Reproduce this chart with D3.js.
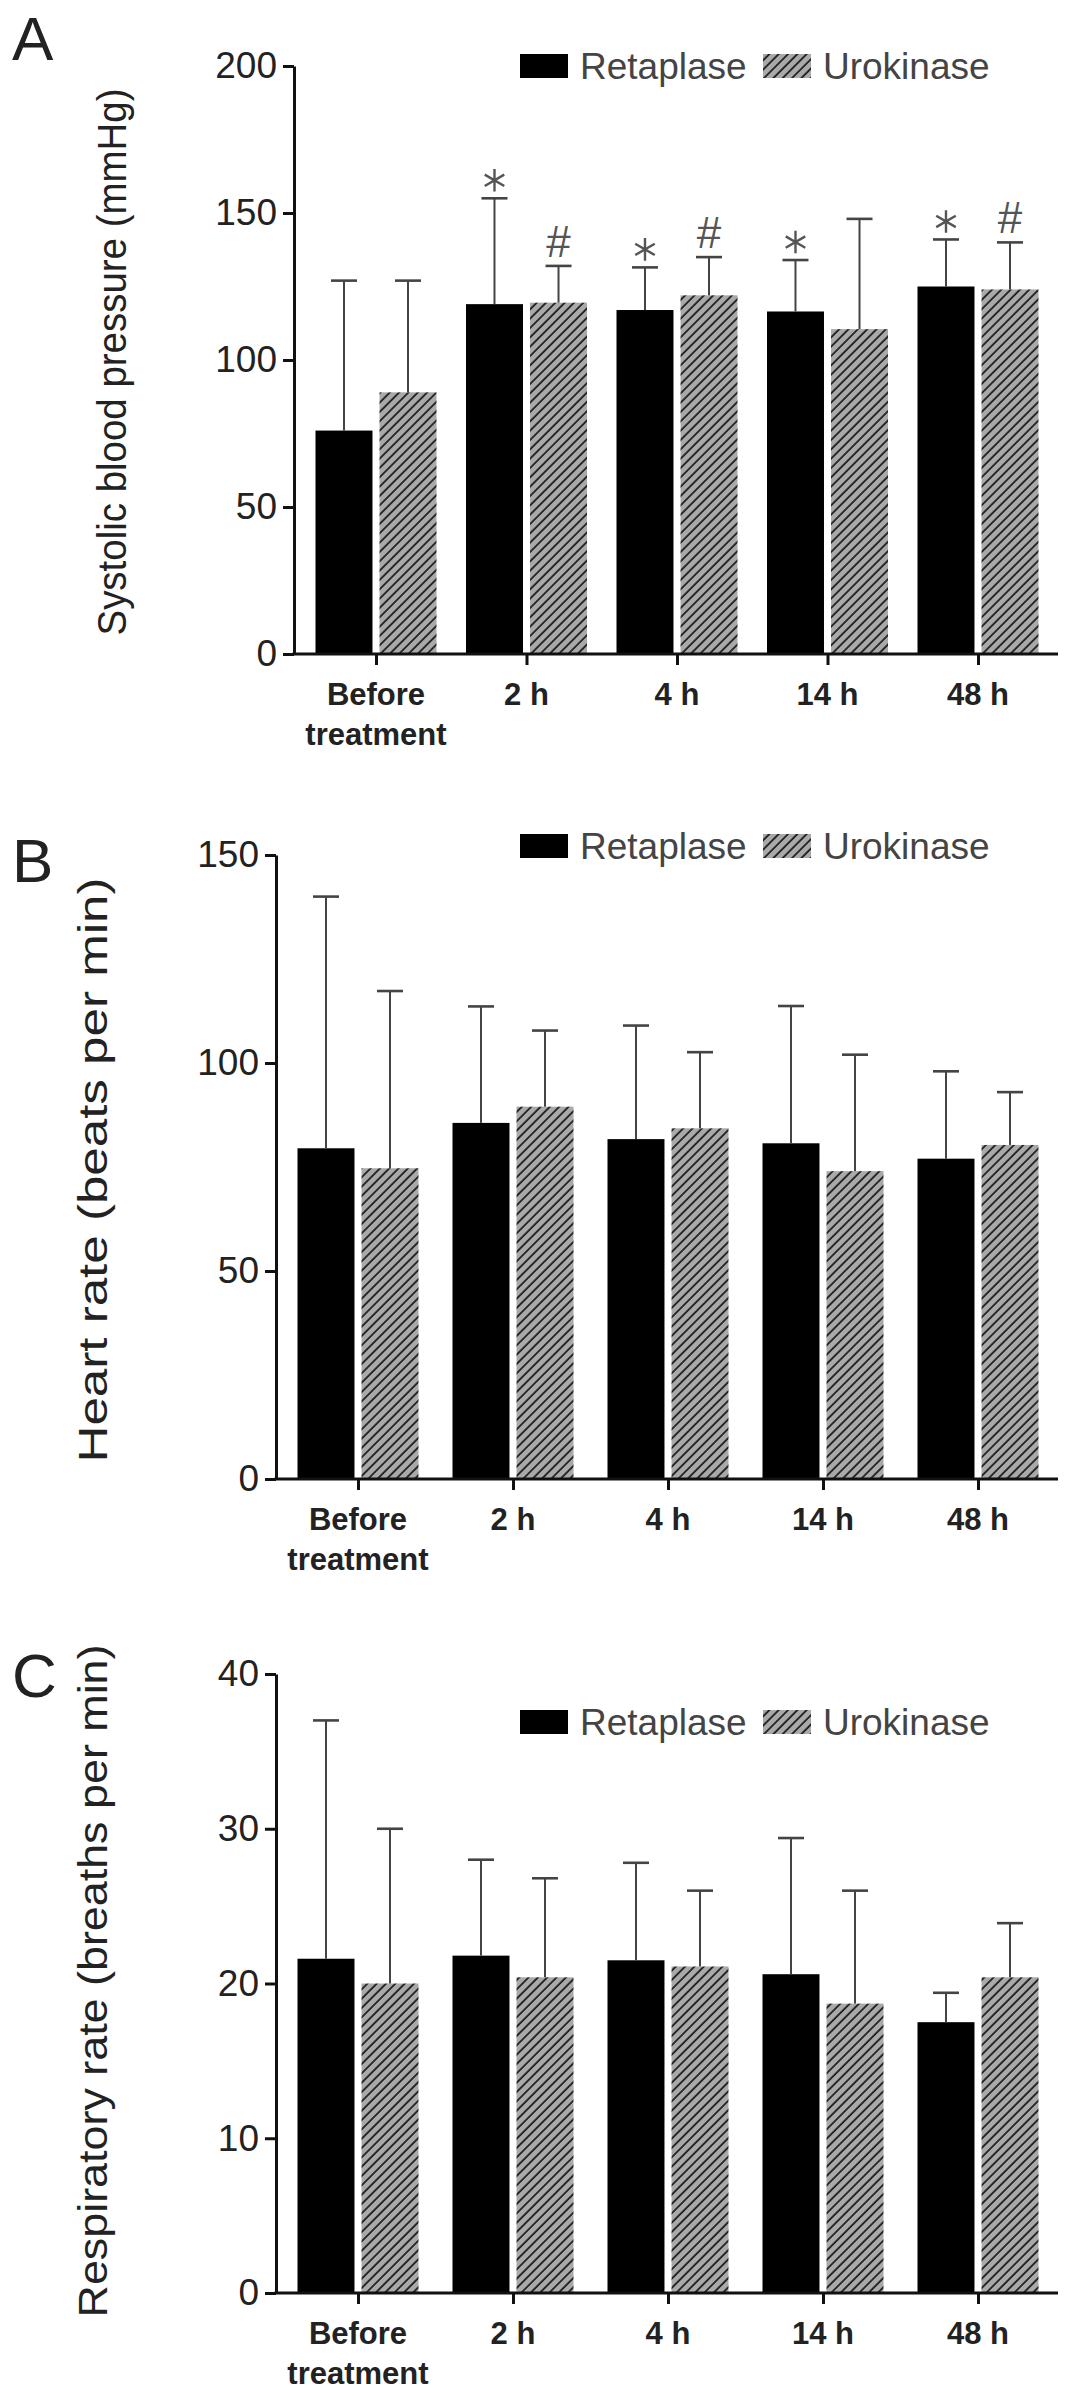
<!DOCTYPE html>
<html>
<head>
<meta charset="utf-8">
<script src="https://cdn.jsdelivr.net/npm/d3@7"></script>
<style>
  html, body { margin: 0; padding: 0; background: #fff; }
  svg { display: block; font-family: "Liberation Sans", Arial, sans-serif; }
</style>
</head>
<body>
<div id="chart"></div>
<script>
// Categories and series
var categories = ["Before treatment", "2 h", "4 h", "14 h", "48 h"];
var series = ["Retaplase", "Urokinase"];

// A: systolic blood pressure (mean, SD)
var sbpRetaplase = [76, 119, 117, 116.5, 125];
var sbpRetaplaseSD = [51, 36, 14.5, 17.5, 16];
var sbpUrokinase = [89, 119.5, 122, 110.5, 124];
var sbpUrokinaseSD = [38, 12.5, 13, 37.5, 16];
var sbpRetaplaseMarks = ["", "*", "*", "*", "*"];
var sbpUrokinaseMarks = ["", "#", "#", "", "#"];
var sbpTicks = [0, 50, 100, 150, 200];

// B: heart rate
var hrRetaplase = [79.5, 85.6, 81.7, 80.7, 77];
var hrRetaplaseSD = [60.5, 28, 27.3, 33, 21];
var hrUrokinase = [74.7, 89.5, 84.3, 74, 80.3];
var hrUrokinaseSD = [42.6, 18.3, 18.3, 28, 12.7];
var hrTicks = [0, 50, 100, 150];

// C: respiratory rate
var rrRetaplase = [21.6, 21.8, 21.5, 20.6, 17.5];
var rrRetaplaseSD = [15.4, 6.2, 6.3, 8.8, 1.9];
var rrUrokinase = [20, 20.4, 21.1, 18.7, 20.4];
var rrUrokinaseSD = [10, 6.4, 4.9, 7.3, 3.5];
var rrTicks = [0, 10, 20, 30, 40];

var W = 1087, H = 2406;

var svg = d3.select("#chart").append("svg")
    .attr("width", W)
    .attr("height", H);

// Hatch pattern for Urokinase
var defs = svg.append("defs");
var hatch = defs.append("pattern")
    .attr("id", "hatch")
    .attr("patternUnits", "userSpaceOnUse")
    .attr("width", 6.6)
    .attr("height", 6.6)
    .attr("patternTransform", "rotate(45)");
hatch.append("rect")
    .attr("width", 6.6)
    .attr("height", 6.6)
    .attr("fill", "#a9a9a9");
hatch.append("line")
    .attr("x1", 1).attr("y1", 0)
    .attr("x2", 1).attr("y2", 6.6)
    .attr("stroke", "#1e1e1e")
    .attr("stroke-width", 1.8);

var fills = ["#000", "url(#hatch)"];

// Draw one panel
var drawPanel = function(opts) {
    var g = svg.append("g");

    var y = d3.scaleLinear()
        .domain([0, opts.ticks[opts.ticks.length - 1]])
        .range([opts.bottom, opts.top]);

    var x = d3.scalePoint()
        .domain(categories)
        .range([opts.firstCenter, opts.lastCenter]);

    var xSub = d3.scaleBand()
        .domain(series)
        .range([-60.5, 60.5])
        .paddingInner(0.11);

    // Panel letter
    g.append("text")
        .attr("x", 12)
        .attr("y", opts.letterY)
        .attr("font-size", 62)
        .attr("fill", "#222")
        .text(opts.letter);

    // Y-axis title
    g.append("text")
        .attr("transform", "translate(" + opts.titleX + "," + opts.titleY + ") rotate(-90)")
        .attr("text-anchor", "middle")
        .attr("dominant-baseline", "central")
        .attr("font-size", 40)
        .attr("fill", "#222")
        .attr("textLength", opts.titleLength)
        .attr("lengthAdjust", "spacingAndGlyphs")
        .text(opts.title);

    // Bars
    var data = [];
    categories.forEach(function(c, i) {
        opts.values.forEach(function(vals, s) {
            data.push({
                cat: c,
                ser: series[s],
                s: s,
                v: vals[i],
                sd: opts.sds[s][i],
                mark: opts.marks ? opts.marks[s][i] : ""
            });
        });
    });

    var bars = g.append("g").selectAll("g")
        .data(data)
        .enter()
        .append("g")
        .attr("transform", function(d) { return "translate(" + (x(d.cat) + xSub(d.ser)) + ",0)"; });

    bars.append("rect")
        .attr("x", 0)
        .attr("width", xSub.bandwidth())
        .attr("y", function(d) { return y(d.v); })
        .attr("height", function(d) { return y(0) - y(d.v); })
        .attr("fill", function(d) { return fills[d.s]; });

    // Error bars (upper only)
    var bw = xSub.bandwidth();
    bars.append("line")
        .attr("x1", bw / 2).attr("x2", bw / 2)
        .attr("y1", function(d) { return y(d.v); })
        .attr("y2", function(d) { return y(d.v + d.sd); })
        .attr("stroke", "#444")
        .attr("stroke-width", 2);
    bars.append("line")
        .attr("x1", bw / 2 - 13).attr("x2", bw / 2 + 13)
        .attr("y1", function(d) { return y(d.v + d.sd); })
        .attr("y2", function(d) { return y(d.v + d.sd); })
        .attr("stroke", "#444")
        .attr("stroke-width", 2.6);

    // Significance marks
    bars.filter(function(d) { return d.mark === "*"; })
        .append("path")
        .attr("transform", function(d) { return "translate(" + (bw / 2) + "," + (y(d.v + d.sd) - 18) + ")"; })
        .attr("d", d3.symbol(d3.symbolAsterisk, 360)())
        .attr("fill", "none")
        .attr("stroke", "#555")
        .attr("stroke-width", 2.4);
    bars.filter(function(d) { return d.mark === "#"; })
        .append("text")
        .attr("x", bw / 2)
        .attr("y", function(d) { return y(d.v + d.sd) - 9; })
        .attr("text-anchor", "middle")
        .attr("font-size", 44)
        .attr("fill", "#555")
        .text("#");

    // Y axis
    var yAxis = g.append("g")
        .attr("transform", "translate(" + opts.axisX + ",0)")
        .call(d3.axisLeft(y).tickValues(opts.ticks).tickSize(11).tickSizeOuter(0).tickPadding(6));
    yAxis.select(".domain").attr("stroke", "#111").attr("stroke-width", 3);
    yAxis.selectAll(".tick line").attr("stroke", "#111").attr("stroke-width", 3);
    yAxis.selectAll(".tick text")
        .attr("font-size", 37)
        .attr("font-family", "Liberation Sans, Arial, sans-serif")
        .attr("fill", "#222");

    // X axis
    var xAxis = g.append("g")
        .attr("transform", "translate(0," + opts.bottom + ")")
        .call(d3.axisBottom(x).tickSize(11).tickSizeOuter(0).tickFormat(""));
    xAxis.select(".domain").remove();
    xAxis.selectAll(".tick line").attr("stroke", "#111").attr("stroke-width", 3);
    xAxis.append("line")
        .attr("x1", opts.axisX - 1.5)
        .attr("x2", 1058)
        .attr("stroke", "#111")
        .attr("stroke-width", 3);

    // X labels (two lines for "Before treatment")
    var labels = g.append("g").selectAll("text")
        .data(categories)
        .enter()
        .append("text")
        .attr("x", function(d) { return x(d); })
        .attr("y", opts.bottom + 51)
        .attr("text-anchor", "middle")
        .attr("font-size", 31)
        .attr("font-weight", "bold")
        .attr("fill", "#222");
    labels.each(function(d) {
        var words = d === "Before treatment" ? ["Before", "treatment"] : [d];
        var t = d3.select(this);
        words.forEach(function(w, k) {
            t.append("tspan")
                .attr("x", x(d))
                .attr("dy", k === 0 ? 0 : 40)
                .text(w);
        });
    });

    // Legend
    var legend = g.append("g")
        .attr("transform", "translate(0," + opts.legendY + ")");
    var legendX = [520, 763];
    series.forEach(function(s, i) {
        legend.append("rect")
            .attr("x", legendX[i])
            .attr("y", -12)
            .attr("width", 48)
            .attr("height", 24)
            .attr("fill", fills[i]);
        legend.append("text")
            .attr("x", legendX[i] + 60)
            .attr("y", 0)
            .attr("dominant-baseline", "central")
            .attr("font-size", 37)
            .attr("fill", "#444")
            .text(s);
    });
};

drawPanel({
    letter: "A", letterY: 60,
    title: "Systolic blood pressure (mmHg)", titleX: 112, titleY: 362, titleLength: 547,
    top: 66, bottom: 654, axisX: 294, firstCenter: 376, lastCenter: 978,
    ticks: sbpTicks, legendY: 66,
    values: [sbpRetaplase, sbpUrokinase],
    sds: [sbpRetaplaseSD, sbpUrokinaseSD],
    marks: [sbpRetaplaseMarks, sbpUrokinaseMarks]
});

drawPanel({
    letter: "B", letterY: 882,
    title: "Heart  rate (beats per min)", titleX: 93, titleY: 1170, titleLength: 585,
    top: 855, bottom: 1479, axisX: 276, firstCenter: 358, lastCenter: 978,
    ticks: hrTicks, legendY: 846,
    values: [hrRetaplase, hrUrokinase],
    sds: [hrRetaplaseSD, hrUrokinaseSD]
});

drawPanel({
    letter: "C", letterY: 1697,
    title: "Respiratory rate (breaths per min)", titleX: 93, titleY: 1981, titleLength: 673,
    top: 1674, bottom: 2293, axisX: 276, firstCenter: 358, lastCenter: 978,
    ticks: rrTicks, legendY: 1722,
    values: [rrRetaplase, rrUrokinase],
    sds: [rrRetaplaseSD, rrUrokinaseSD]
});
</script>
</body>
</html>
